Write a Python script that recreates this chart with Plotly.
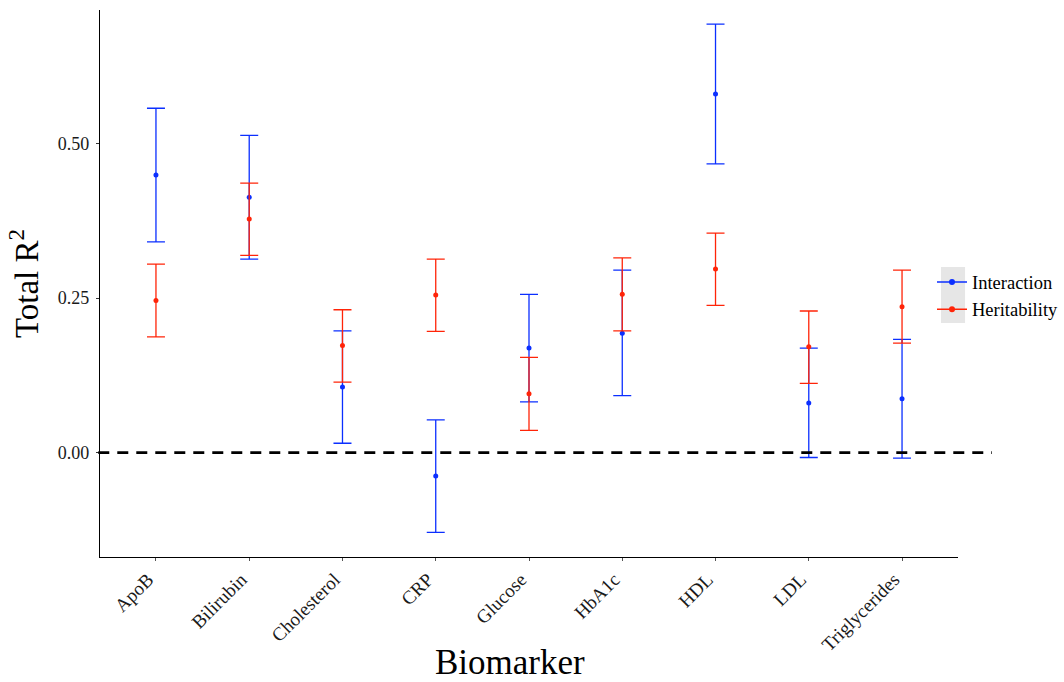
import plotly.graph_objects as go

categories = ["ApoB", "Bilirubin", "Cholesterol", "CRP", "Glucose", "HbA1c", "HDL", "LDL", "Triglycerides"]

interaction_est = [0.449, 0.413, 0.106, -0.038, 0.169, 0.193, 0.580, 0.080, 0.087]
interaction_lo = [0.341, 0.313, 0.015, -0.129, 0.082, 0.092, 0.467, -0.008, -0.009]
interaction_hi = [0.557, 0.513, 0.197, 0.053, 0.256, 0.295, 0.693, 0.169, 0.183]

heritability_est = [0.246, 0.378, 0.173, 0.255, 0.095, 0.256, 0.297, 0.171, 0.236]
heritability_lo = [0.187, 0.319, 0.114, 0.196, 0.036, 0.197, 0.238, 0.112, 0.177]
heritability_hi = [0.305, 0.436, 0.231, 0.313, 0.154, 0.315, 0.355, 0.229, 0.295]

y_ticks = [0.0, 0.25, 0.5]
y_tick_labels = ["0.00", "0.25", "0.50"]

BLUE = "#0B2FFF"
RED = "#FF2408"
FONT = "Liberation Serif"

fig = go.Figure()


def add_series(name, est, lo, hi, color):
    fig.add_trace(go.Scatter(
        x=categories, y=est, mode="markers", name=name, showlegend=False,
        marker=dict(color=color, size=5),
        error_y=dict(type="data", symmetric=False,
                     array=[h - e for h, e in zip(hi, est)],
                     arrayminus=[e - l for e, l in zip(est, lo)],
                     color=color, thickness=1.3, width=9),
    ))
    fig.add_trace(go.Scatter(
        x=[None], y=[None], mode="lines+markers", name=name,
        line=dict(color=color, width=1.5), marker=dict(color=color, size=6),
    ))


add_series("Interaction", interaction_est, interaction_lo, interaction_hi, BLUE)
add_series("Heritability", heritability_est, heritability_lo, heritability_hi, RED)

# dashed reference line at zero
fig.add_shape(type="line", xref="paper", yref="y", x0=-0.002, x1=1.0396, y0=0, y1=0,
              line=dict(color="black", width=2.8, dash="11px,8px"), layer="above")

# legend key background
fig.add_shape(type="rect", xref="paper", yref="paper", x0=0.9802, x1=1.0082,
              y0=0.4278, y1=0.5302, fillcolor="#E6E6E6", line=dict(width=0), layer="below")

# x-axis title
fig.add_annotation(text="Biomarker", xref="paper", yref="paper", x=0.4779, y=-0.193,
                   xanchor="center", yanchor="middle", showarrow=False,
                   font=dict(family=FONT, size=35, color="black"))

fig.update_layout(
    width=1064, height=682,
    margin=dict(l=100, r=106, t=10, b=125, autoexpand=False),
    plot_bgcolor="white", paper_bgcolor="white",
    font=dict(family=FONT, color="#1a1a1a", size=18),
    showlegend=True,
    legend=dict(x=0.9697, xanchor="left", y=0.477, yanchor="middle",
                bgcolor="rgba(0,0,0,0)", font=dict(family=FONT, size=18.5, color="black")),
    xaxis=dict(
        type="category", categoryorder="array", categoryarray=categories,
        range=[-0.6, 8.6], showgrid=False, zeroline=False, automargin=False,
        showline=True, linecolor="black", linewidth=1.2,
        ticks="outside", ticklen=3, tickcolor="#555", tickwidth=1,
        tickangle=-45, ticklabelshift=-8,
        tickfont=dict(family=FONT, size=19, color="#1a1a1a"),
    ),
    yaxis=dict(
        range=[-0.169, 0.716], showgrid=False, zeroline=False, automargin=False,
        showline=True, linecolor="black", linewidth=1.2,
        ticks="outside", ticklen=3, tickcolor="#333", tickwidth=1,
        tickvals=y_ticks, ticktext=y_tick_labels, ticklabelstandoff=3,
        tickfont=dict(family=FONT, size=18, color="#1a1a1a"),
        title=dict(text="Total R<sup>2</sup>", font=dict(family=FONT, size=33, color="black"), standoff=9),
    ),
)

fig.write_html("out.html", config={"displayModeBar": False},
               post_script="document.body.style.margin='0';")
